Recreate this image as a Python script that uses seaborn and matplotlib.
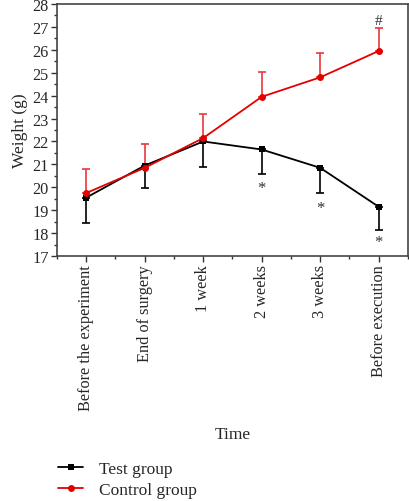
import numpy as np
import pandas as pd
import seaborn as sns
import matplotlib.pyplot as plt
from matplotlib.ticker import MultipleLocator, FixedLocator

# Data
time_points = ["Before the experiment", "End of surgery", "1 week", "2 weeks", "3 weeks", "Before execution"]
test_mean = [19.55, 20.95, 22.0, 21.65, 20.85, 19.15]
test_err = [1.1, 1.0, 1.1, 1.05, 1.1, 1.0]
control_mean = [19.75, 20.85, 22.15, 23.95, 24.8, 25.95]
control_err = [1.05, 1.05, 1.05, 1.1, 1.05, 1.0]
star_y = [19.95, 19.1, 17.6]
star_idx = [3, 4, 5]

sns.set_style("ticks")
plt.rcParams['font.family'] = ['Liberation Serif', 'DejaVu Serif']
plt.rcParams['font.size'] = 11

df = pd.DataFrame({
    "Time": time_points * 2,
    "Weight": test_mean + control_mean,
    "group": ["Test group"] * 6 + ["Control group"] * 6,
})

fig = plt.figure(figsize=(4.1, 5.02), dpi=100)
ax = fig.add_axes([0.139, 0.488, 0.856, 0.502])

x = np.arange(len(time_points))
# one-sided error bars: test group downward, control upward
ax.errorbar(x, test_mean, yerr=[test_err, [0] * 6], fmt="none", ecolor="black",
            elinewidth=1.2, capsize=3, capthick=1.2, zorder=2)
ax.errorbar(x, control_mean, yerr=[[0] * 6, control_err], fmt="none", ecolor="#e8383d",
            elinewidth=1.2, capsize=3, capthick=1.2, zorder=2)

sns.lineplot(data=df, x="Time", y="Weight", hue="group", style="group",
             markers={"Test group": "s", "Control group": "o"}, dashes=False,
             palette={"Test group": "black", "Control group": "#e50000"},
             markersize=5, markeredgewidth=0, linewidth=1.3, sort=False,
             ax=ax, zorder=3)
# smaller squares than circles, as in the original
for line in ax.get_lines():
    if line.get_marker() == "s":
        line.set_markersize(4)

for i, yv in zip(star_idx, star_y):
    ax.text(i, yv, "*", ha="center", va="center", fontsize=12, color="#333333")
ax.text(5, 27.3, "#", ha="center", va="center", fontsize=11, color="#333333")

ax.set_xlim(-0.5, 5.5)
ax.set_ylim(17, 28)
ax.yaxis.set_major_locator(MultipleLocator(1))
ax.yaxis.set_minor_locator(MultipleLocator(0.5))
ax.xaxis.set_minor_locator(FixedLocator(np.arange(-0.5, 5.6, 1)))
ax.set_xticks(x)
ax.set_xticklabels(time_points, rotation=90, fontsize=11.7)
ax.tick_params(axis="y", labelsize=11.7)
ax.tick_params(which="major", direction="out", length=4, width=1, color="#333333", pad=2)
ax.tick_params(which="minor", direction="out", length=2.5, width=1, color="#333333")
for s in ax.spines.values():
    s.set_color("#444444")
    s.set_linewidth(1.2)
    s.set_visible(True)

ax.set_xlabel("Time", fontsize=12.5, labelpad=11)
ax.set_ylabel("Weight (g)", fontsize=12.5, labelpad=3)

handles, labels = ax.get_legend_handles_labels()
ax.get_legend().remove()
fig.legend(handles, labels, loc="upper left", bbox_to_anchor=(0.125, 0.093),
           frameon=False, fontsize=12.5, handlelength=1.45, handletextpad=0.9,
           labelspacing=0.25, borderaxespad=0)

fig.savefig("out.png", dpi=100)
